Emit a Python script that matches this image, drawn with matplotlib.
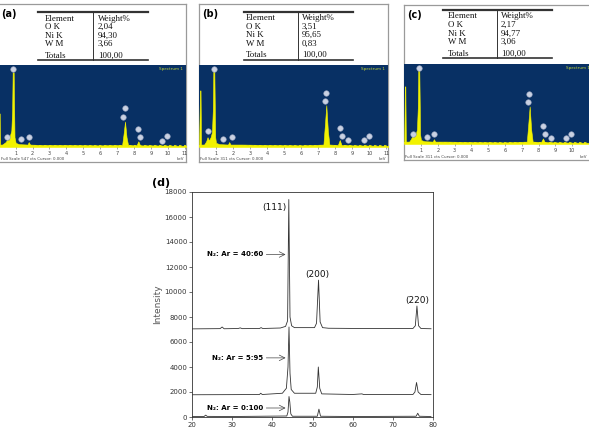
import numpy as np
import matplotlib.pyplot as plt

W, H = 589, 445

# ---- EDS tables ----
panel_labels = ['(a)', '(b)', '(c)']
elements = ['Element', 'O K', 'Ni K', 'W M', 'Totals']
weights_a = ['Weight%', '2,04', '94,30', '3,66', '100,00']
weights_b = ['Weight%', '3,51', '95,65', '0,83', '100,00']
weights_c = ['Weight%', '2,17', '94,77', '3,06', '100,00']
full_scale = [547, 311, 311]

# ---- EDS spectra (keV, fraction of full scale) ----
kev_a = [0.00, 0.03, 0.05, 0.08, 0.20, 0.40, 0.50, 0.58, 0.66, 0.74, 0.79, 0.82, 0.88, 0.93,
         1.00, 1.20, 1.70, 1.77, 1.85, 2.50, 4.00, 6.00, 7.30, 7.38, 7.47, 7.56, 7.65,
         8.15, 8.26, 8.36, 9.00, 11.2]
cnt_a = [0.02, 0.41, 0.41, 0.03, 0.03, 0.06, 0.09, 0.08, 0.14, 0.20, 0.45, 0.91, 0.91, 0.12,
         0.05, 0.035, 0.03, 0.06, 0.03, 0.025, 0.025, 0.02, 0.025, 0.15, 0.31, 0.12, 0.025,
         0.02, 0.07, 0.02, 0.02, 0.015]
kev_b = [0.00, 0.06, 0.09, 0.12, 0.30, 0.42, 0.50, 0.58, 0.68, 0.76, 0.81, 0.84, 0.90, 0.95,
         1.00, 1.20, 1.70, 1.77, 1.85, 2.50, 4.00, 6.00, 7.30, 7.38, 7.47, 7.56, 7.65,
         8.15, 8.26, 8.36, 9.00, 11.2]
cnt_b = [0.02, 0.69, 0.69, 0.03, 0.03, 0.07, 0.12, 0.08, 0.12, 0.18, 0.45, 0.92, 0.92, 0.12,
         0.05, 0.035, 0.03, 0.06, 0.03, 0.03, 0.025, 0.02, 0.03, 0.25, 0.51, 0.20, 0.03,
         0.025, 0.085, 0.025, 0.02, 0.015]
kev_c = [0.00, 0.04, 0.07, 0.10, 0.30, 0.42, 0.50, 0.58, 0.68, 0.76, 0.81, 0.84, 0.90, 0.95,
         1.00, 1.20, 1.70, 1.77, 1.85, 2.50, 4.00, 6.00, 7.30, 7.38, 7.47, 7.56, 7.65,
         8.15, 8.26, 8.36, 9.00, 11.2]
cnt_c = [0.02, 0.72, 0.72, 0.03, 0.03, 0.07, 0.11, 0.08, 0.12, 0.18, 0.45, 0.93, 0.93, 0.12,
         0.05, 0.035, 0.03, 0.06, 0.03, 0.03, 0.025, 0.02, 0.03, 0.23, 0.47, 0.18, 0.03,
         0.025, 0.07, 0.025, 0.02, 0.015]

# element line markers
mark_kev_a = [0.47, 0.82, 1.33, 1.77, 7.37, 7.47, 8.24, 8.37, 9.64, 9.97]
mark_y_a = [0.12, 0.95, 0.10, 0.12, 0.37, 0.47, 0.22, 0.12, 0.07, 0.14]
mark_kev_b = [0.51, 0.86, 1.39, 1.95, 7.37, 7.48, 8.25, 8.39, 8.74, 9.66, 9.97]
mark_y_b = [0.195, 0.95, 0.10, 0.12, 0.56, 0.66, 0.23, 0.14, 0.08, 0.08, 0.14]
mark_kev_c = [0.51, 0.86, 1.36, 1.76, 7.35, 7.45, 8.25, 8.37, 8.73, 9.64, 9.96]
mark_y_c = [0.13, 0.95, 0.09, 0.125, 0.53, 0.63, 0.22, 0.125, 0.07, 0.07, 0.125]

# ---- XRD ----
tt_top = [20, 27, 27.5, 28, 31.5, 32, 32.5, 36.8, 37.2, 37.6, 42, 43.3, 43.8, 44.1, 44.4, 44.8,
          45.5, 50.5, 51.0, 51.5, 51.9, 52.5, 54, 62, 75, 75.6, 76.0, 76.4, 77, 79.5]
i_top = [7050, 7070, 7200, 7060, 7080, 7130, 7070, 7080, 7150, 7080, 7120, 7250, 7700, 17400,
         8000, 7300, 7150, 7150, 7500, 10950, 7600, 7150, 7100, 7080, 7080, 7300, 8880, 7300,
         7080, 7060]
tt_mid = [20, 30, 36.8, 37.1, 37.5, 42.5, 43.5, 43.9, 44.15, 44.4, 44.7, 45.5, 50.8, 51.2, 51.45,
          51.8, 52.3, 60, 62.3, 62.7, 75, 75.5, 75.9, 76.3, 77, 79.5]
i_mid = [1780, 1790, 1800, 1900, 1800, 1900, 2300, 4000, 7200, 3500, 2200, 1900, 1900, 2400,
         4000, 2300, 1850, 1800, 1850, 1800, 1800, 2000, 2760, 2000, 1800, 1790]
tt_bot = [20, 23.0, 23.4, 23.8, 30, 43.6, 43.9, 44.15, 44.35, 44.6, 45, 51.2, 51.6, 52.0, 60,
          75.8, 76.2, 76.6, 79.5]
i_bot = [40, 40, 150, 50, 40, 80, 400, 1640, 1200, 250, 60, 60, 630, 60, 40, 60, 300, 60, 40]
peak_labels = ['(111)', '(200)', '(220)']
peak_x = [40.4, 51.1, 76.0]
peak_y = [16780, 11410, 9360]
ratio_labels = ['N\u2082: Ar = 40:60', 'N\u2082: Ar = 5:95', 'N\u2082: Ar = 0:100']
ratio_y = [13000, 4730, 720]


def box(x0, y0, x1, y1):
    return [x0 / W, 1 - y1 / H, (x1 - x0) / W, (y1 - y0) / H]


fig = plt.figure(figsize=(W / 100, H / 100), dpi=100)

spectra = [(kev_a, cnt_a, mark_kev_a, mark_y_a, weights_a),
           (kev_b, cnt_b, mark_kev_b, mark_y_b, weights_b),
           (kev_c, cnt_c, mark_kev_c, mark_y_c, weights_c)]
frames = [(-3, 4, 186, 162), (199, 4, 388, 162), (404, 5, 593, 160)]
blues = [(-3, 65, 186, 147), (199, 65, 388, 147), (404, 64, 593, 144)]
xlims = [(-0.107, 11.08), (0.0, 11.09), (-0.01, 11.24)]
ticks = [range(1, 12), range(1, 12), range(1, 11)]
# table: top line y, x0, x1, vertical x, left text x, right text x (relative to frame)
tables = [(8.3, 41, 151, 96, 48, 101), (7.7, 45, 154, 99, 47, 103), (5.0, 39, 148, 93, 44, 97)]
blue = '#083064'
yellow = '#f2f200'

for k in range(3):
    kev, cnt, mk, my, wts = spectra[k]
    fx0, fy0, fx1, fy1 = frames[k]
    fw, fh = fx1 - fx0, fy1 - fy0
    fr = fig.add_axes(box(*frames[k]))
    fr.set_xlim(0, fw)
    fr.set_ylim(fh, 0)
    fr.set_xticks([])
    fr.set_yticks([])
    for s in fr.spines.values():
        s.set_color('#9a9a9a')
        s.set_linewidth(0.9)

    top, tx0, tx1, tv, tl, trx = tables[k]
    bot = top + 48
    fr.plot([tx0, tx1], [top, top], color='#333333', lw=1.6)
    fr.plot([tx0, tx1], [bot, bot], color='#333333', lw=1.2)
    fr.plot([tv, tv], [top, bot], color='#333333', lw=0.7)
    rows = [6.5, 15, 23.5, 32, 43.5]
    for r, el, wt in zip(rows, elements, wts):
        fr.text(tl, top + r, el, family='Liberation Serif', fontsize=6.4,
                va='center', ha='left', color='#111111')
        fr.text(trx, top + r, wt, family='Liberation Serif', fontsize=6.4,
                va='center', ha='left', color='#111111')
    fr.text(4 if k == 0 else 3, 10, panel_labels[k], fontsize=7,
            fontweight='bold', va='center', ha='left')

    ax = fig.add_axes(box(*blues[k]))
    ax.set_facecolor(blue)
    ax.fill_between(kev, 0, cnt, color=yellow, lw=0.4, edgecolor=yellow)
    ax.plot([0, 11.2], [0.012, 0.012], color=yellow, lw=1.2, ls=(0, (1.5, 1.5)))
    ax.scatter(mk, my, s=16, color='#c9d1e2', edgecolor='#8d9bb8', lw=0.4, zorder=3)
    ax.set_xlim(*xlims[k])
    ax.set_ylim(0, 1)
    ax.set_yticks([])
    ax.set_xticks(list(ticks[k]))
    ax.tick_params(axis='x', direction='out', length=1.5, width=0.5, color='#888888',
                   labelsize=3.6, labelcolor='#444444', pad=1.2)
    for s in ax.spines.values():
        s.set_visible(False)
    ax.text(0.985, 0.955, 'Spectrum 1', transform=ax.transAxes, fontsize=3.0,
            color='#c3d53a', ha='right', va='center')
    fig.text((max(fx0, 0) + 1) / W, 1 - (fy1 - 3) / H,
             'Full Scale %d cts Cursor: 0.000' % full_scale[k],
             fontsize=2.9, color='#444444', ha='left', va='center')
    fig.text((min(fx1, W) - 2) / W, 1 - (fy1 - 3) / H, 'keV',
             fontsize=2.9, color='#444444', ha='right', va='center')

# ---- XRD panel (d) ----
ax = fig.add_axes(box(192, 192, 433, 417))
for tt, ii in [(tt_top, i_top), (tt_mid, i_mid), (tt_bot, i_bot)]:
    ax.plot(tt, ii, color='#333333', lw=0.6)
ax.set_xlim(20, 80)
ax.set_ylim(0, 18000)
ax.set_xticks(np.arange(20, 81, 10))
ax.set_yticks(np.arange(0, 18001, 2000))
ax.tick_params(direction='out', length=2, width=0.5, labelsize=5, labelcolor='#333333',
               pad=1.5, color='#333333')
for s in ax.spines.values():
    s.set_linewidth(0.6)
    s.set_color('#333333')
ax.set_ylabel('Intensity', fontsize=6.5, color='#555555', labelpad=2)
for lab, x, y in zip(peak_labels, peak_x, peak_y):
    ax.text(x, y, lab, fontsize=6.5, ha='center', va='center', color='#111111')
for lab, y in zip(ratio_labels, ratio_y):
    ax.text(37.7, y, lab, fontsize=5, fontweight='bold', ha='right', va='center')
    ax.annotate('', xy=(38.5, y), xytext=(43.3, y),
                arrowprops=dict(arrowstyle='<-', color='#444444', lw=0.5,
                                shrinkA=0, shrinkB=0))
fig.text(152 / W, 1 - 183 / H, '(d)', fontsize=8, fontweight='bold', va='center', ha='left')

fig.savefig('out.png', dpi=100)
